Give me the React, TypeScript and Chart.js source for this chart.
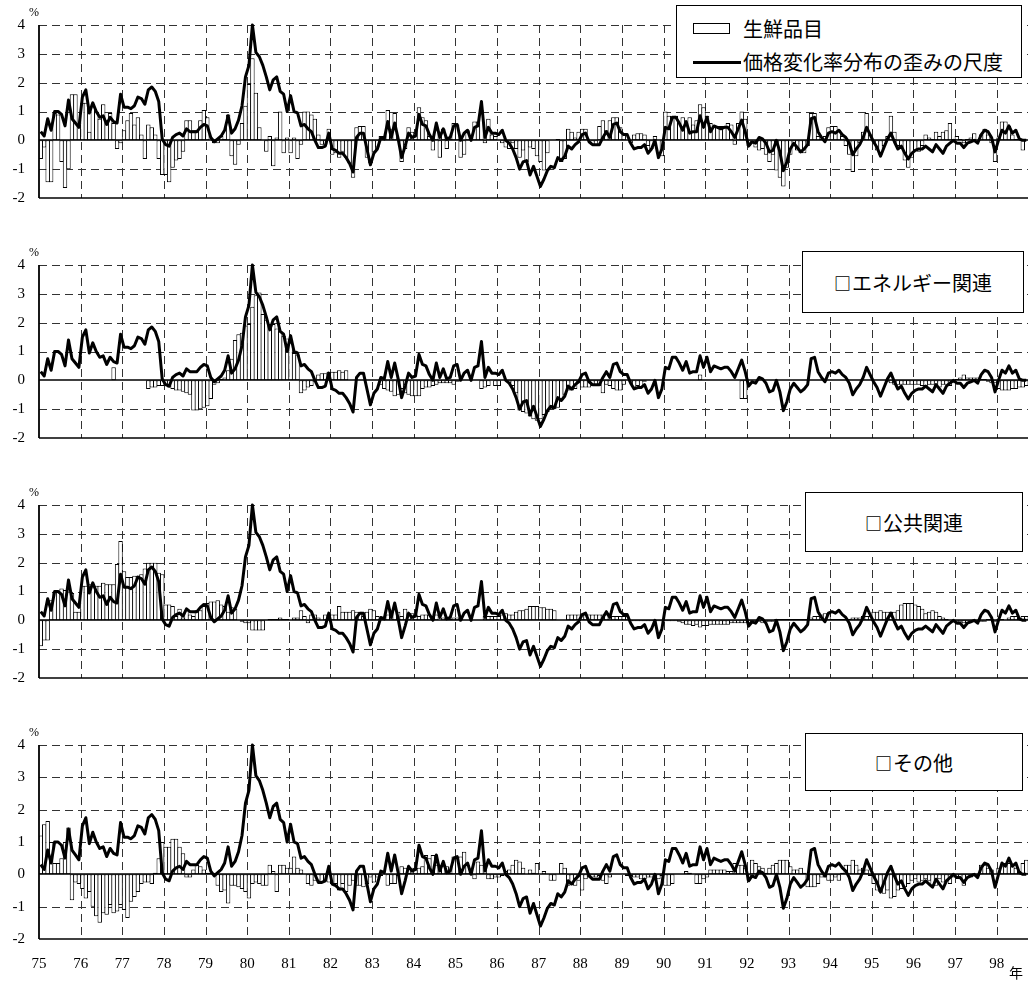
import React, { useEffect, useRef } from "react";
import { Chart, registerables } from "chart.js";

Chart.register(...registerables);

// ---------------- data ----------------
const firstYear = 75; // Jan 1975
const monthCount = 285; // Jan 1975 - Sep 1998
const yMin = -2;
const yMax = 4;

// 価格変化率分布の歪みの尺度 (same line in all panels)
const skewLine: number[] = [
  0.3, 0.15, 0.75, 0.35, 1.0, 1.0, 0.9, 0.5, 1.4, 0.75, 0.6, 0.45, // 75
  1.5, 1.75, 0.95, 1.3, 1.0, 0.8, 0.85, 0.55, 0.8, 0.65, 0.6, 1.6, // 76
  1.15, 1.15, 1.1, 1.2, 1.5, 1.45, 1.25, 1.75, 1.85, 1.7, 1.35, 0.05, // 77
  -0.15, -0.2, 0.1, 0.2, 0.25, 0.15, 0.4, 0.3, 0.3, 0.3, 0.45, 0.55, // 78
  0.5, 0.1, -0.05, 0.05, 0.15, 0.35, 0.85, 0.25, 0.4, 0.7, 1.2, 2.2, // 79
  2.6, 4.0, 3.05, 2.9, 2.6, 2.2, 1.75, 2.1, 2.2, 1.7, 1.6, 1.0, // 80
  1.55, 1.0, 0.95, 0.5, 0.55, 0.4, 0.3, 0.0, -0.25, -0.25, -0.2, 0.25, // 81
  -0.3, -0.35, -0.45, -0.45, -0.6, -0.8, -1.1, 0.1, 0.25, 0.25, -0.3, -0.85, // 82
  -0.45, -0.3, 0.1, 0.05, 0.65, 0.1, 0.6, 0.05, -0.6, -0.2, 0.25, 0.1, // 83
  0.15, 0.9, 0.55, 0.5, 0.2, 0.0, 0.6, 0.1, 0.4, 0.05, 0.1, 0.5, // 84
  0.55, 0.0, 0.25, 0.35, 0.0, 0.45, 0.5, 1.35, 0.1, 0.45, 0.25, 0.25, // 85
  0.2, 0.35, 0.0, -0.1, -0.3, -0.6, -1.0, -0.75, -0.7, -1.2, -0.9, -1.25, // 86
  -1.6, -1.35, -1.05, -0.9, -0.95, -0.6, -0.7, -0.55, -0.2, -0.3, -0.15, -0.05, // 87
  0.2, 0.25, -0.05, -0.15, -0.15, -0.15, 0.1, 0.3, 0.1, 0.55, 0.6, 0.3, // 88
  0.2, 0.2, -0.1, -0.3, -0.25, -0.25, -0.15, -0.45, -0.3, 0.0, -0.6, -0.3, // 89
  0.45, 0.4, 0.8, 0.8, 0.6, 0.35, 0.65, 0.25, 0.3, 0.3, 0.85, 0.45, // 90
  0.8, 0.3, 0.5, 0.45, 0.4, 0.45, 0.45, 0.3, 0.1, 0.4, 0.7, 0.3, // 91
  -0.2, -0.05, -0.1, 0.1, 0.05, -0.1, -0.4, -0.35, 0.0, -0.4, -1.05, -0.75, // 92
  -0.3, -0.1, -0.25, -0.4, -0.3, -0.15, 0.75, 0.8, 0.3, 0.1, -0.05, 0.25, // 93
  0.3, 0.25, 0.35, 0.2, 0.1, -0.1, -0.5, -0.3, -0.15, 0.1, 0.45, 0.2, // 94
  -0.05, -0.25, -0.55, -0.25, 0.05, 0.25, -0.05, -0.3, -0.2, -0.45, -0.65, -0.45, // 95
  -0.35, -0.3, -0.3, -0.2, -0.3, -0.4, -0.15, -0.3, -0.45, -0.2, -0.1, 0.0, // 96
  -0.1, -0.1, -0.25, -0.1, -0.05, 0.0, -0.1, 0.2, 0.35, 0.3, 0.1, -0.4, // 97
  0.0, 0.35, 0.25, 0.5, 0.25, 0.35, 0.05, 0.0, 0.0, // 98
];

// 生鮮品目
const freshFood: number[] = [
  -0.65, -0.25, -1.45, -1.45, 0.95, 0.9, -0.75, -1.65, -1.0, 1.6, 1.6, 0.55, // 75
  1.3, 1.3, 0.3, 1.25, 1.0, 0.75, 1.25, 0.7, 0.95, 0.6, -0.3, -0.1, // 76
  0.35, 0.7, 0.95, 0.55, 0.8, 0.2, -0.65, 0.55, 0.45, 0.2, -0.65, -1.2, // 77
  -1.2, -1.45, -0.95, -0.7, -0.65, -0.4, 0.7, 0.7, 0.35, 0.35, 0.7, 1.05, // 78
  0.8, 0.0, -0.1, -0.1, 0.15, 0.05, 0.9, -0.55, -0.85, -0.15, 0.6, 1.2, // 79
  1.95, 2.85, 1.65, 0.45, 0.0, -0.4, 0.15, -0.9, 0.1, 1.0, -0.45, 0.1, // 80
  -0.45, 0.1, -0.65, -0.15, 1.0, 1.0, 0.9, 0.75, 0.2, -0.15, -0.15, 0.4, // 81
  -0.5, -0.45, -0.6, -0.4, -0.6, -0.8, -1.3, 0.45, 0.5, 0.5, -0.6, -0.8, // 82
  -0.4, -0.25, 0.15, 0.15, 1.05, 0.4, 0.95, 0.0, -0.75, -0.3, 0.45, 0.3, // 83
  0.25, 1.15, 0.8, 0.7, 0.15, -0.35, 0.35, -0.6, 0.4, -0.3, 0.05, 0.6, // 84
  0.55, -0.6, -0.5, 0.35, 0.0, 0.65, 0.65, 1.05, -0.1, 0.75, 0.2, 0.15, // 85
  0.0, -0.1, -0.25, -0.3, -0.1, -0.3, -0.6, -0.35, -0.75, -0.25, -0.3, -0.55, // 86
  -0.75, -1.05, -0.45, 0.0, 0.0, 0.05, -0.75, -0.65, 0.4, 0.3, 0.1, 0.3, // 87
  0.4, 0.4, 0.0, -0.15, -0.2, 0.5, 0.7, 0.35, 0.7, 0.8, 0.8, 0.45, // 88
  0.25, 0.0, -0.1, 0.2, 0.25, 0.25, 0.2, -0.2, -0.3, 0.15, 0.0, -0.55, // 89
  1.0, 0.85, 0.8, 0.85, 0.6, 0.8, 0.6, 0.8, 0.55, 0.7, 1.25, 1.15, // 90
  0.85, 0.6, 0.5, 0.5, 0.5, 0.5, 0.6, 0.55, -0.15, 0.6, 1.0, 0.75, // 91
  -0.2, 0.0, -0.25, -0.35, -0.3, -0.5, -0.75, -0.5, -1.05, -1.3, -1.6, -0.95, // 92
  -0.5, -0.15, -0.35, -0.45, -0.45, -0.2, 0.95, 0.95, 0.15, 0.05, 0.15, 0.45, // 93
  0.5, 0.5, 0.35, 0.15, -0.2, -0.5, -1.1, -0.55, -0.1, 0.3, 0.95, 0.2, // 94
  -0.05, -0.35, -0.5, -0.2, 0.15, 0.85, 0.3, -0.2, -0.3, -0.7, -0.95, -0.6, // 95
  -0.35, -0.4, -0.2, 0.2, 0.1, 0.05, 0.3, 0.15, 0.3, 0.35, 0.6, 0.05, // 96
  0.15, 0.05, -0.1, 0.05, 0.1, 0.25, 0.0, 0.2, 0.4, 0.2, -0.1, -0.75, // 97
  0.1, 0.65, 0.65, 0.5, 0.2, 0.05, 0.0, -0.35, 0.0, // 98
];

// エネルギー関連
const energyRelated: number[] = [
  0, 0, 0, 0, 0, 0, 0, 0, 0, 0, 0, 0, // 75
  0, 0, 0, 0, 0, 0, 0, 0, 0, 0.45, 0, 0, // 76
  0, 0, 0, 0, 0, 0, 0, -0.3, -0.25, -0.25, -0.2, -0.2, // 77
  -0.15, -0.25, -0.3, -0.35, -0.35, -0.4, -0.45, -0.5, -1.05, -1.05, -1.0, -0.95, // 78
  -0.9, -0.65, -0.15, -0.1, 0.05, 0.1, 0.35, 0.75, 1.4, 1.6, 1.65, 1.9, // 79
  1.95, 2.55, 2.95, 3.05, 2.3, 2.1, 1.95, 1.95, 1.8, 1.7, 1.55, 1.45, // 80
  1.3, 0.95, 0.9, -0.45, -0.35, -0.25, -0.2, -0.05, 0.2, 0.25, 0.25, 0.3, // 81
  0.3, 0.3, 0.35, 0.3, 0.35, 0, 0, 0, 0, 0, 0, 0, // 82
  0, 0, -0.15, -0.3, -0.35, -0.4, -0.55, -0.5, -0.3, -0.45, -0.5, -0.55, // 83
  -0.55, -0.55, -0.3, -0.25, -0.25, -0.2, -0.15, -0.1, -0.1, -0.1, -0.1, -0.15, // 84
  -0.05, 0, 0, 0, 0, 0, 0, -0.3, -0.25, -0.2, 0, -0.2, // 85
  -0.2, 0, 0, -0.1, -0.2, -0.45, -1.05, -1.1, -1.15, -1.25, -1.35, -1.4, // 86
  -1.35, -1.2, -1.1, -1.0, -1.0, -0.95, -0.7, -0.5, -0.35, -0.35, -0.3, -0.1, // 87
  -0.25, -0.25, -0.25, -0.2, -0.2, -0.2, -0.45, -0.15, -0.2, -0.3, -0.35, -0.35, // 88
  -0.15, 0, -0.05, -0.25, -0.2, -0.25, -0.05, 0, 0, 0, 0, 0, // 89
  0, 0, 0, 0, 0, 0, 0, 0, 0, 0, 0.2, 0, // 90
  0, 0, 0, 0, 0, 0, 0, 0, 0, 0, -0.65, -0.65, // 91
  0, 0, 0, 0, 0, 0, 0, 0, 0, 0, 0, 0, // 92
  0, 0, 0, 0, 0, 0, 0, 0, 0, 0, 0, 0, // 93
  0, 0, 0, 0, 0, 0, 0, 0, 0, 0, 0, 0, // 94
  0, 0, 0, 0, -0.05, -0.1, -0.15, -0.15, -0.15, -0.15, -0.15, -0.15, // 95
  -0.15, -0.15, -0.2, -0.2, -0.15, -0.15, -0.2, -0.25, -0.15, -0.15, -0.2, -0.1, // 96
  0.05, 0.1, 0.2, 0.1, 0.1, 0.1, 0.1, 0.05, 0.05, -0.05, -0.1, -0.1, // 97
  -0.3, -0.35, -0.35, -0.35, -0.3, -0.3, -0.25, -0.25, -0.2, // 98
];

// 公共関連
const publicRelated: number[] = [
  -0.9, -0.7, -0.7, 0.7, 1.0, 1.0, 1.1, 1.05, 1.0, 0.95, 0.3, 0.3, // 75
  1.2, 1.2, 1.25, 1.2, 1.2, 1.2, 1.3, 1.25, 1.25, 1.25, 1.95, 2.75, // 76
  1.7, 1.5, 1.5, 1.55, 1.55, 1.6, 1.8, 2.0, 2.0, 2.0, 1.65, 1.6, // 77
  0.55, 0.55, 0.5, 0.15, 0.4, 0.1, 0.35, 0.2, 0.15, 0.35, 0.35, 0.5, // 78
  0.6, 0.65, 0.65, 0.7, 0.55, 0.5, 0.3, 0.45, 0.4, 0.0, -0.05, -0.1, // 79
  -0.1, -0.35, -0.35, -0.35, -0.35, 0.0, 0.05, 0.05, 0.05, 0.1, 0.05, 0.05, // 80
  0.0, 0.1, 0.1, 0.35, 0.15, -0.1, 0.2, 0.2, 0.1, 0.0, 0.2, 0.2, // 81
  0.2, 0.2, 0.5, 0.3, 0.3, 0.3, 0.35, 0.3, 0.3, 0.15, 0.3, 0.4, // 82
  0.35, 0.15, 0.1, 0.05, 0.2, 0.3, 0.4, 0.3, 0.15, 0.4, 0.25, 0.25, // 83
  0.2, 0.15, 0.2, 0.2, 0.2, 0.1, 0.2, 0.0, 0.1, 0.1, 0.05, 0.1, // 84
  0.1, 0.05, 0, 0, 0, 0, 0, 0, 0.15, 0.15, 0.15, 0.15, // 85
  0.15, 0.2, 0.25, 0.2, 0.2, 0.3, 0.35, 0.35, 0.4, 0.5, 0.5, 0.5, // 86
  0.45, 0.45, 0.4, 0.4, 0.35, 0, 0, 0, 0.2, 0.2, 0.2, 0.2, // 87
  0.2, 0.2, 0.2, 0.2, 0.2, 0.2, 0.2, 0.2, 0.15, 0.15, 0.15, 0.15, // 88
  0.15, 0.15, -0.03, -0.03, -0.03, -0.03, -0.03, -0.03, -0.03, -0.03, -0.03, -0.03, // 89
  -0.03, -0.03, -0.03, -0.03, -0.05, -0.1, -0.15, -0.15, -0.2, -0.15, -0.25, -0.2, // 90
  -0.2, -0.15, -0.15, -0.15, -0.15, -0.15, -0.15, -0.1, -0.1, -0.1, -0.1, -0.1, // 91
  -0.1, -0.05, -0.1, -0.05, -0.1, -0.05, -0.05, -0.05, 0.05, 0.05, 0.05, 0.05, // 92
  0.05, 0.05, 0.05, 0.05, 0.05, 0.05, 0.1, 0.15, 0.15, 0.2, 0.25, 0.25, // 93
  0.05, 0.05, 0.05, 0.05, 0.05, 0.05, 0.1, 0.1, 0.1, 0.15, 0.15, 0.15, // 94
  0.3, 0.3, 0.35, 0.3, 0.3, 0.3, 0.3, 0.35, 0.55, 0.6, 0.6, 0.6, // 95
  0.55, 0.5, 0.4, 0.25, 0.3, 0.35, 0.3, 0.15, 0.1, 0.05, 0.0, 0.0, // 96
  -0.05, -0.05, -0.1, -0.1, -0.05, -0.05, -0.05, -0.05, -0.05, 0.05, 0.05, -0.05, // 97
  0.05, 0.05, 0.0, 0.1, 0.15, 0.15, 0.1, 0.15, 0.15, // 98
];

// その他
const otherItems: number[] = [
  1.2, 1.55, 1.65, 1.0, 0.35, 0.35, 0.5, 1.0, 1.45, -0.8, -0.25, -0.3, // 75
  -0.45, -0.75, -0.55, -1.0, -1.3, -1.5, -1.2, -1.25, -0.95, -1.2, -1.15, -0.95, // 76
  -1.1, -1.35, -0.85, -0.7, -0.55, -0.3, -0.25, -0.25, -0.3, 0.05, 0.5, 1.0, // 77
  0.85, 0.85, 1.1, 1.1, 0.85, 0.65, -0.1, -0.1, 0.15, 0.3, 0.25, 0.15, // 78
  0.05, 0.05, 0.05, -0.35, -0.55, -0.5, -0.9, -0.35, -0.35, -0.4, -0.45, -0.55, // 79
  -0.75, -0.3, -0.25, -0.3, -0.35, -0.35, 0.3, 0.1, -0.55, 0.3, 0.3, 0.2, // 80
  0.2, 0.55, 0.2, 0.15, 0.0, -0.3, -0.35, -0.2, -0.2, -0.25, -0.2, -0.25, // 81
  -0.3, -0.3, -0.5, -0.3, -0.55, -0.35, -0.2, -0.35, -0.35, -0.4, -0.3, -0.1, // 82
  -0.25, -0.1, -0.05, 0.0, -0.35, -0.3, -0.3, -0.05, 0.25, 0.2, 0.05, 0.2, // 83
  0.15, 0.2, 0.25, 0.6, 0.5, 0.6, 0.3, 0.3, 0.25, 0.25, 0.05, 0.55, // 84
  0.55, 0.55, 0.7, 0.3, 0.15, -0.15, 0.4, 0.3, 0.3, -0.15, -0.15, -0.1, // 85
  -0.1, -0.05, 0.1, 0.15, 0.3, 0.45, 0.4, 0.2, 0.0, 0.15, 0.05, 0.35, // 86
  0.0, 0.1, 0.0, -0.2, -0.2, 0.0, 0.35, 0.2, -0.35, -0.3, -0.35, -0.2, // 87
  -0.5, -0.15, -0.1, -0.1, -0.1, -0.05, -0.2, -0.3, -0.1, 0.0, 0.0, 0.0, // 88
  0.0, -0.05, -0.05, -0.1, -0.1, -0.15, -0.15, -0.1, -0.1, -0.15, -0.15, -0.05, // 89
  -0.35, -0.35, -0.3, 0.0, 0.0, 0.0, 0.1, 0.05, 0.0, -0.3, -0.3, -0.15, // 90
  -0.1, 0.15, 0.15, 0.15, 0.15, 0.15, 0.1, 0.1, 0.35, 0.3, 0.3, 0.2, // 91
  -0.2, 0.45, 0.35, 0.25, 0.2, 0.05, 0.2, 0.3, 0.35, 0.45, 0.45, 0.45, // 92
  0.25, 0.15, 0.15, 0.2, 0.05, -0.4, -0.4, -0.4, -0.3, -0.1, -0.1, -0.2, // 93
  -0.2, -0.1, -0.2, 0.05, 0.3, 0.3, 0.45, 0.3, 0.15, 0.2, 0.15, -0.05, // 94
  -0.3, -0.5, -0.55, -0.6, -0.5, -0.75, -0.7, -0.5, -0.45, -0.4, -0.3, -0.2, // 95
  -0.15, -0.25, -0.2, -0.15, -0.2, -0.35, -0.35, -0.15, -0.25, -0.2, -0.3, -0.1, // 96
  -0.1, -0.15, -0.35, -0.1, -0.1, -0.05, -0.05, 0.3, 0.3, 0.2, 0.15, 0.0, // 97
  0.2, 0.25, 0.35, 0.35, 0.25, 0.2, 0.1, 0.35, 0.45, // 98
];

const lineLegendText = "価格変化率分布の歪みの尺度";
const panelNames = ["生鮮品目", "エネルギー関連", "公共関連", "その他"];
const yUnitText = "%";
const xUnitText = "年";

// ---------------- layout / style ----------------
const SERIF = '"Liberation Serif", "Times New Roman", serif';
const JP = '"Noto Sans CJK JP", "Noto Sans CJK SC", sans-serif';
const PANEL_TOPS = [25, 265, 505, 745];
const PLOT_H = 194;
const PAD_TOP = 25;
const AXIS_W = 39;
const BOX_LEGENDS = [
  null,
  { left: 802, top: 251, width: 222, height: 62 },
  { left: 805, top: 492, width: 218, height: 60 },
  { left: 805, top: 733, width: 218, height: 58 },
];

const panelBars = [freshFood, energyRelated, publicRelated, otherItems];

function Panel({ index }: { index: number }) {
  const ref = useRef<HTMLCanvasElement | null>(null);
  const isLast = index === 3;
  const bottomExtra = isLast ? 43 : 2;
  const height = PAD_TOP + PLOT_H + bottomExtra;
  const top = PANEL_TOPS[index] - PAD_TOP;

  useEffect(() => {
    if (!ref.current) return;
    const bars = panelBars[index];
    const xAt = (i: number) => firstYear + (i + 0.5) / 12;

    const decor = {
      id: "decor" + index,
      beforeDatasetsDraw(chart: any) {
        const { ctx, chartArea: a, scales } = chart;
        const xs = scales.x;
        const ys = scales.y;
        ctx.save();
        ctx.strokeStyle = "#333";
        ctx.lineWidth = 1;
        ctx.setLineDash([8, 5]);
        xs.ticks.forEach((t: any) => {
          if (t.value <= firstYear) return;
          const x = Math.round(xs.getPixelForValue(t.value)) + 0.5;
          ctx.beginPath();
          ctx.moveTo(x, a.top);
          ctx.lineTo(x, a.bottom);
          ctx.stroke();
        });
        ys.ticks.forEach((t: any) => {
          if (t.value === 0 || t.value === yMin) return;
          const y = Math.round(ys.getPixelForValue(t.value)) + 0.5;
          ctx.beginPath();
          ctx.moveTo(a.left, y);
          ctx.lineTo(a.right, y);
          ctx.stroke();
        });
        ctx.setLineDash([]);
        ctx.strokeStyle = "#000";
        // bottom line
        ctx.lineWidth = 1.5;
        const yb = ys.getPixelForValue(yMin);
        ctx.beginPath();
        ctx.moveTo(a.left, yb);
        ctx.lineTo(a.right, yb);
        ctx.stroke();
        ctx.restore();
      },
      afterDatasetDraw(chart: any, args: any) {
        if (args.index !== 1) return;
        const { ctx, chartArea: a, scales } = chart;
        const y0 = Math.round(scales.y.getPixelForValue(0));
        ctx.save();
        ctx.strokeStyle = "#000";
        ctx.lineWidth = 1.6;
        ctx.beginPath();
        ctx.moveTo(a.left, y0);
        ctx.lineTo(a.right, y0);
        ctx.stroke();
        // left axis
        ctx.lineWidth = 1.8;
        ctx.beginPath();
        ctx.moveTo(a.left, a.top);
        ctx.lineTo(a.left, a.bottom);
        ctx.stroke();
        ctx.restore();
      },
      afterDraw(chart: any) {
        const { ctx, chartArea: a } = chart;
        ctx.save();
        ctx.fillStyle = "#000";
        ctx.font = `12px ${SERIF}`;
        ctx.textAlign = "center";
        ctx.textBaseline = "middle";
        ctx.fillText(yUnitText, a.left - 5, a.top - 12);
        if (isLast) {
          ctx.font = `14px ${JP}`;
          ctx.fillText(xUnitText, a.right - 12, a.bottom + 34);
        }
        ctx.restore();
      },
    };

    const chart = new Chart(ref.current, {
      type: "bar",
      data: {
        datasets: [
          {
            type: "line",
            data: skewLine.map((v, i) => ({ x: xAt(i), y: v })),
            borderColor: "#000",
            borderWidth: 3,
            pointRadius: 0,
            tension: 0,
            borderJoinStyle: "round",
            clip: false,
            order: 0,
          } as any,
          {
            type: "bar",
            data: bars.map((v, i) => ({ x: xAt(i), y: v })),
            backgroundColor: "#fff",
            borderColor: "#000",
            borderWidth: 1,
            borderSkipped: false,
            barPercentage: 1.28,
            categoryPercentage: 1,
            order: 1,
          } as any,
        ],
      },
      options: {
        animation: false,
        responsive: false,
        maintainAspectRatio: false,
        events: [],
        layout: { padding: { top: PAD_TOP, bottom: isLast ? 0 : bottomExtra, left: 0, right: 0 } },
        plugins: { legend: { display: false }, tooltip: { enabled: false } },
        scales: {
          x: {
            type: "linear",
            offset: false,
            min: firstYear,
            max: firstYear + monthCount / 12,
            grid: { display: false, drawTicks: false, offset: false },
            border: { display: false },
            ticks: {
              display: isLast,
              stepSize: 1,
              includeBounds: false,
              autoSkip: false,
              maxRotation: 0,
              padding: 16,
              color: "#000",
              font: { family: SERIF, size: 15 },
              callback: (v: any) => String(v),
            },
            afterFit: (s: any) => {
              s.height = isLast ? bottomExtra : 0;
            },
          },
          y: {
            min: yMin,
            max: yMax,
            grid: { display: false, drawTicks: false },
            border: { display: false },
            ticks: {
              stepSize: 1,
              padding: 14,
              color: "#000",
              font: { family: SERIF, size: 15 },
              callback: (v: any) => String(v),
            },
            afterFit: (s: any) => {
              s.width = AXIS_W;
            },
          },
        },
      } as any,
      plugins: [decor],
    });
    return () => chart.destroy();
  }, [index]);

  return (
    <canvas
      ref={ref}
      width={1028}
      height={height}
      style={{ position: "absolute", left: 0, top, width: 1028, height }}
    />
  );
}

function MainLegend() {
  return (
    <div
      style={{
        position: "absolute",
        left: 676,
        top: 5,
        width: 346,
        height: 73,
        boxSizing: "border-box",
        border: "1px solid #000",
        background: "#fff",
        fontFamily: JP,
        color: "#000",
      }}
    >
      <div
        style={{
          position: "absolute",
          left: 16,
          top: 17,
          width: 37,
          height: 11,
          boxSizing: "border-box",
          border: "1.5px solid #000",
          background: "#fff",
        }}
      />
      <div style={{ position: "absolute", left: 66, top: 12, fontSize: 20, lineHeight: "22px", whiteSpace: "nowrap" }}>
        {panelNames[0]}
      </div>
      <div style={{ position: "absolute", left: 16, top: 55, width: 48, height: 3, background: "#000" }} />
      <div style={{ position: "absolute", left: 66, top: 45, fontSize: 20, lineHeight: "22px", whiteSpace: "nowrap" }}>
        {lineLegendText}
      </div>
    </div>
  );
}

function BoxLegend({ index }: { index: number }) {
  const g = BOX_LEGENDS[index]!;
  return (
    <div
      style={{
        position: "absolute",
        left: g.left,
        top: g.top,
        width: g.width,
        height: g.height,
        boxSizing: "border-box",
        border: "1px solid #000",
        background: "#fff",
        display: "flex",
        alignItems: "center",
        justifyContent: "center",
        fontFamily: JP,
        fontSize: 20,
        color: "#000",
        whiteSpace: "nowrap",
      }}
    >
      <span style={{ fontSize: 17, fontWeight: 700, marginRight: 1 }}>□</span>
      <span>{panelNames[index]}</span>
    </div>
  );
}

export default function App() {
  return (
    <div
      style={{
        position: "absolute",
        left: 0,
        top: 0,
        width: 1028,
        height: 982,
        background: "#fff",
        overflow: "hidden",
      }}
    >
      {[0, 1, 2, 3].map((i) => (
        <Panel key={i} index={i} />
      ))}
      <MainLegend />
      {[1, 2, 3].map((i) => (
        <BoxLegend key={i} index={i} />
      ))}
    </div>
  );
}
